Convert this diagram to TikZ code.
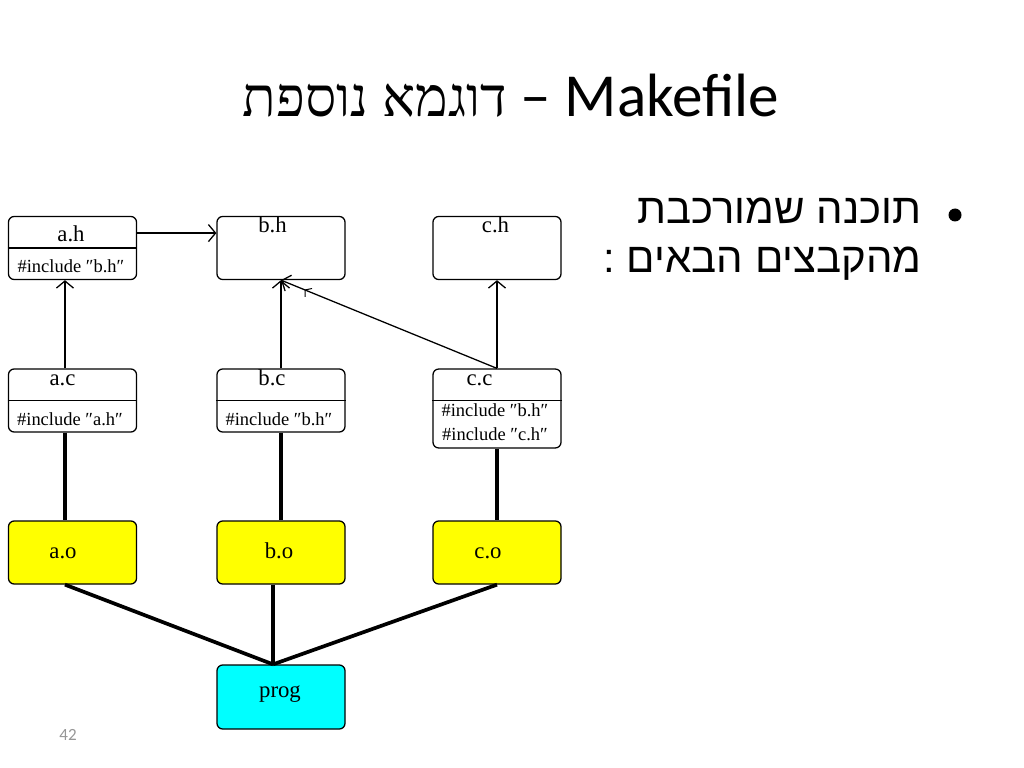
\documentclass[tikz,border=0pt]{standalone}
\usepackage{fontspec}
\setmainfont{Liberation Serif}
\newfontfamily\titlefont{Carlito}
\newfontfamily\hebserif[Script=Hebrew,Scale=0.9]{Liberation Serif}
\newfontfamily\hebsans[Script=Hebrew]{Liberation Sans}
\TeXXeTstate=1
\usetikzlibrary{arrows.meta}
\definecolor{boxyellow}{RGB}{255,255,0}
\definecolor{boxcyan}{RGB}{0,255,255}
\definecolor{pagegray}{RGB}{150,150,150}
\tikzset{
  box/.style={draw, rounded corners=4pt, line width=0.9pt, inner sep=0pt, minimum width=90pt, minimum height=44.3pt},
  obox/.style={box, fill=boxyellow},
  pbox/.style={box, fill=boxcyan, minimum height=45pt},
  lab/.style={font=\fontsize{16}{18}\selectfont, anchor=base, inner sep=0pt},
  inc/.style={font=\fontsize{13}{15}\selectfont, anchor=base, inner sep=0pt},
  arr/.style={line width=0.9pt, -{Straight Barb[length=5pt, width=12pt, line width=0.9pt]}},
  buildline/.style={line width=2.6pt},
  divider/.style={line width=0.9pt}
}
\begin{document}
\begin{tikzpicture}[x=0.703125pt, y=-0.703125pt]
\useasboundingbox[fill=white] (0,0) rectangle (1024,768);

% title
\node[anchor=base, inner sep=0pt, font=\titlefont\fontsize{43}{50}\selectfont] (title) at (511,117)
  {{\hebserif\beginR דוגמא נוספת\endR}{} – Makefile};

% bullet text
\node[anchor=base east, inner sep=0pt, font=\hebsans\fontsize{29.5}{34}\selectfont] (line1) at (922,224) {\beginR תוכנה שמורכבת\endR};
\node[anchor=base east, inner sep=0pt, font=\hebsans\fontsize{29.5}{34}\selectfont] (line2) at (922,273) {\beginR מהקבצים הבאים :\endR};
\fill (955,215) circle (6.5);

% page number
\node[anchor=base, inner sep=0pt, font=\titlefont\fontsize{12}{14}\selectfont, text=pagegray] (pnum) at (68,740) {42};

% boxes
\node[box] (ah) at (72.5,248) {};
\node[box] (bh) at (281,248) {};
\node[box] (ch) at (497,248) {};
\node[box] (ac) at (72.5,400.5) {};
\node[box] (bc) at (281,400.5) {};
\node[box, minimum height=55.5pt] (cc) at (497,408.5) {};
\node[obox] (ao) at (72.5,552.5) {};
\node[obox] (bo) at (281,552.5) {};
\node[obox] (co) at (497,552.5) {};
\node[pbox] (prog) at (281,697) {};

% dividers
\draw[divider] (ah.west) -- (ah.east);
\draw[divider] (ac.west) -- (ac.east);
\draw[divider] (bc.west) -- (bc.east);
\draw[divider] ([yshift=5.6pt]cc.west) -- ([yshift=5.6pt]cc.east);

% texts
\node[lab] (tah) at (71,242) {a.h};
\node[inc] (iah) at (71,273) {\#include ″b.h″};
\node[lab] (tbh) at (272.5,233) {b.h};
\node[lab] (tch) at (495.5,233) {c.h};
\node[lab] (tac) at (62.5,385) {a.c};
\node[inc] (iac) at (70,425) {\#include ″a.h″};
\node[lab] (tbc) at (272,385) {b.c};
\node[inc] (ibc) at (279,425) {\#include ″b.h″};
\node[lab] (tcc) at (479.5,385) {c.c};
\node[inc] (icc1) at (495,416) {\#include ″b.h″};
\node[inc] (icc2) at (495,440) {\#include ″c.h″};
\node[lab] (tao) at (63,558) {a.o};
\node[lab] (tbo) at (279,558) {b.o};
\node[lab] (tco) at (488,558) {c.o};
\node[lab] (tprog) at (280,697) {prog};

% include arrows
\draw[arr] ([yshift=10.5pt]ah.east) -- ([yshift=10.5pt]bh.west);
\draw[arr] ([xshift=-5.3pt]ac.north) -- ([xshift=-5.3pt]ah.south);
\draw[arr] (bc.north) -- (bh.south);
\draw[arr] (cc.north) -- (ch.south);
\draw[arr] (cc.north) -- (bh.south);
\draw[line width=0.7pt] (305,297) -- (305,290) -- (312,288.5);

% compile lines
\draw[buildline] ([xshift=-5.3pt]ac.south) -- ([xshift=-5.3pt]ao.north);
\draw[buildline] (bc.south) -- (bo.north);
\draw[buildline] (cc.south) -- (co.north);

% link lines
\draw[buildline] ([xshift=-5.3pt]ao.south) -- ([xshift=-5.6pt]prog.north);
\draw[buildline] ([xshift=-5.6pt]bo.south) -- ([xshift=-5.6pt]prog.north);
\draw[buildline] (co.south) -- ([xshift=-5.6pt]prog.north);
\end{tikzpicture}
\end{document}
